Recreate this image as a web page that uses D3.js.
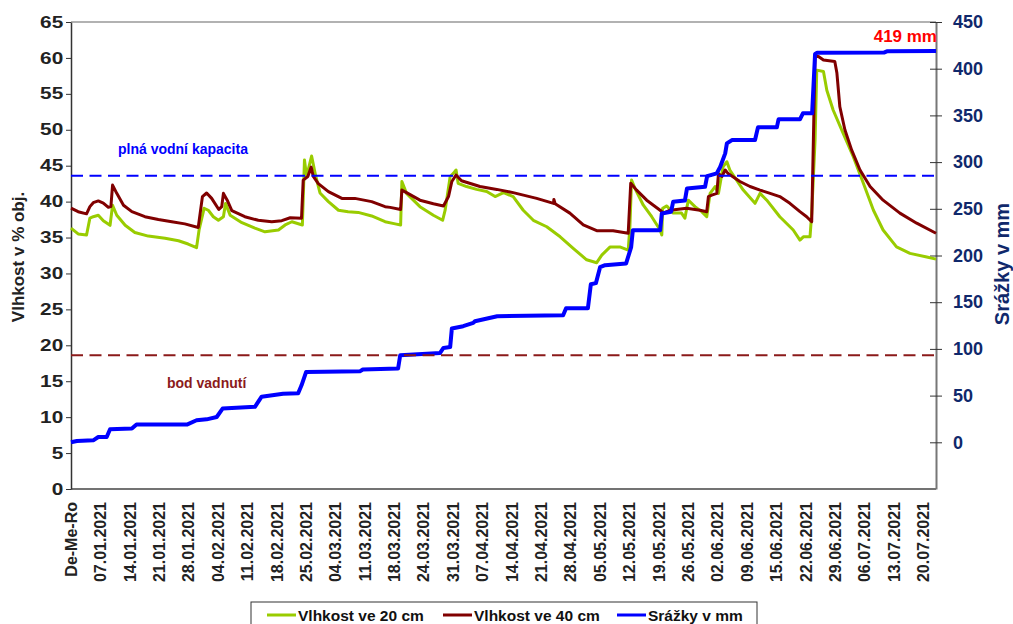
<!DOCTYPE html>
<html>
<head>
<meta charset="utf-8">
<script src="https://cdn.jsdelivr.net/npm/d3@7"></script>
<style>
body { margin: 0; background: #fff; }
text { font-family: Arial, "Liberation Sans", sans-serif; font-weight: bold; }
</style>
</head>
<body>
<div id="chart"></div>
<script>
// day offsets: label i sits at day i*7
const xLabels = ['De-Me-Ro', '07.01.2021', '14.01.2021', '21.01.2021', '28.01.2021', '04.02.2021',
    '11.02.2021', '18.02.2021', '25.02.2021', '04.03.2021', '11.03.2021', '18.03.2021', '24.03.2021',
    '31.03.2021', '07.04.2021', '14.04.2021', '21.04.2021', '28.04.2021', '05.05.2021', '12.05.2021',
    '19.05.2021', '26.05.2021', '02.06.2021', '09.06.2021', '15.06.2021', '22.06.2021', '29.06.2021',
    '06.07.2021', '13.07.2021', '20.07.2021'];
const leftTicks = [0, 5, 10, 15, 20, 25, 30, 35, 40, 45, 50, 55, 60, 65];
const rightTicks = [0, 50, 100, 150, 200, 250, 300, 350, 400, 450];

// soil moisture 20 cm [day, % obj.]
const moisture20 = [
    [0, 36.3], [1.7, 35.5], [3.7, 35.35], [4.5, 37.7], [5.3, 37.9], [6.5, 38.1], [7.7, 37.35],
    [9.3, 36.7], [9.9, 39.5], [10.9, 38.1], [12.9, 36.7], [15.2, 35.7], [18.4, 35.2], [22.4, 34.9],
    [25.6, 34.55], [27.9, 34.1], [29.9, 33.6], [30.5, 36.05], [31.7, 39.07], [32.7, 38.8],
    [33.9, 37.9], [35.1, 37.4], [36.3, 37.9], [36.8, 39.75], [37.9, 38.1], [40.7, 37.06],
    [43.8, 36.3], [46.2, 35.8], [49.4, 36.05], [51.0, 36.75], [52.6, 37.2], [55.1, 36.75],
    [55.6, 45.8], [56.1, 43.5], [57.3, 46.35], [58.3, 43.5], [59.3, 41.2], [61.3, 40.0],
    [63.7, 38.8], [66.0, 38.6], [68.4, 38.5], [71.6, 38.0], [74.8, 37.2], [77.2, 36.9],
    [78.5, 36.75], [78.8, 42.8], [79.9, 41.15], [83.1, 39.3], [86.3, 38.1], [88.5, 37.4],
    [89.1, 38.8], [90.3, 43.5], [91.0, 43.9], [91.7, 44.4], [92.2, 42.55], [94.2, 42.1],
    [96.6, 41.7], [99.0, 41.4], [101.0, 40.7], [103.0, 41.25], [105.3, 40.7], [107.7, 38.8],
    [110.1, 37.4], [113.3, 36.5], [116.5, 35.1], [119.6, 33.5], [122.8, 31.9], [125.2, 31.5],
    [126.4, 32.55], [128.4, 33.7], [130.7, 33.7], [132.7, 33.26], [133.1, 36.5], [133.5, 43.0],
    [134.3, 41.85], [136.3, 39.5], [138.3, 37.9], [140.3, 36.05], [140.7, 35.35], [140.9, 39.07],
    [141.9, 39.4], [143.4, 38.4], [145.4, 38.4], [146.2, 37.7], [147.0, 40.2], [148.6, 39.3],
    [150.2, 38.6], [151.4, 37.9], [152.2, 41.15], [153.4, 42.1], [154.2, 41.15], [155.3, 44.86],
    [156.2, 45.55], [156.9, 44.4], [160.1, 41.6], [162.9, 39.76], [164.1, 41.15], [165.7, 40.2],
    [168.8, 37.9], [172.0, 36.05], [173.6, 34.65], [174.4, 35.1], [176.0, 35.1], [176.4, 38.4],
    [177.2, 48.6], [177.6, 58.3], [179.2, 58.1], [180.0, 55.5], [181.5, 52.75], [183.9, 49.5],
    [186.3, 46.25], [188.7, 42.55], [191.1, 38.8], [193.4, 36.05], [196.6, 33.7], [199.8, 32.8],
    [203.8, 32.3], [206, 32.0]
];

// soil moisture 40 cm [day, % obj.]
const moisture40 = [
    [0, 39.1], [1.7, 38.6], [3.7, 38.3], [4.5, 39.3], [5.3, 39.85], [6.5, 40.1], [7.7, 39.8],
    [8.9, 39.2], [9.5, 39.3], [9.9, 42.3], [10.9, 41.15], [12.5, 39.5], [14.5, 38.6], [17.6, 37.9],
    [20.8, 37.5], [24.0, 37.2], [27.1, 36.9], [30.3, 36.4], [31.3, 40.7], [32.3, 41.2],
    [33.5, 40.45], [35.2, 38.9], [35.9, 39.3], [36.3, 41.15], [37.2, 40.2], [38.3, 38.75],
    [41.4, 37.9], [44.6, 37.4], [47.8, 37.2], [50.2, 37.35], [52.2, 37.75], [54.9, 37.7],
    [55.3, 43.0], [56.4, 43.5], [57.2, 44.8], [57.7, 43.5], [58.9, 42.5], [61.3, 41.4],
    [64.5, 40.45], [67.6, 40.45], [71.6, 40.0], [74.8, 39.3], [76.0, 39.2], [78.5, 38.9],
    [78.8, 41.6], [79.9, 41.25], [83.1, 40.2], [86.3, 39.7], [88.7, 39.4], [89.9, 40.7],
    [90.7, 42.8], [91.2, 43.25], [91.7, 43.7], [93.0, 42.9], [97.4, 42.1], [101.4, 41.7],
    [105.3, 41.25], [110.9, 40.45], [114.9, 39.76], [115.0, 40.3], [115.3, 39.7], [118.8, 38.4],
    [122.0, 36.75], [125.2, 35.95], [129.1, 35.95], [132.7, 35.6], [133.3, 42.55], [134.7, 41.6],
    [137.1, 40.2], [140.3, 38.8], [141.1, 38.4], [142.7, 38.8], [146.6, 39.07], [149.8, 38.8],
    [151.4, 38.6], [151.8, 40.7], [152.6, 40.9], [153.8, 41.15], [154.2, 43.9], [155.0, 43.5],
    [155.8, 44.4], [156.5, 43.9], [159.3, 42.8], [161.7, 42.1], [164.1, 41.6], [166.5, 41.15],
    [168.8, 40.7], [171.2, 39.76], [173.6, 38.6], [175.2, 37.9], [176.4, 37.2], [176.8, 48.6],
    [177.2, 60.2], [178.0, 60.2], [179.2, 59.7], [181.9, 59.5], [182.4, 57.9], [183.1, 53.2],
    [184.3, 50.0], [185.9, 47.2], [187.9, 44.4], [190.3, 42.1], [193.4, 40.2], [197.4, 38.4],
    [201.4, 37.0], [206, 35.6]
];

// cumulative precipitation [day, mm]
const rainfall = [
    [0, 0], [1.4, 1.4], [5.3, 2.1], [6.5, 5.7], [8.5, 5.7], [9.3, 13.9], [14.5, 14.7],
    [15.6, 19], [27.6, 19], [29.9, 23.6], [32.3, 24.6], [34.7, 27.1], [36.1, 36.1], [43.8, 38],
    [45.4, 48.8], [50.5, 52], [54.1, 52.5], [54.9, 61], [56.0, 75.3], [68.8, 76], [69.5, 78],
    [77.9, 79], [78.4, 93.2], [87.9, 95.7], [88.7, 101], [90.3, 102], [90.7, 121.8],
    [93.4, 124.3], [95.8, 127.8], [96.2, 129.6], [101.5, 135], [117.2, 136], [117.9, 143.6],
    [123.1, 143.6], [123.8, 169.3], [125.0, 170.4], [126.0, 187.5], [127.2, 189.6],
    [132.2, 191.5], [133.4, 209], [133.8, 227], [140.3, 227], [140.7, 245], [142.9, 246.8],
    [143.4, 257.5], [146.2, 258.8], [146.7, 271.8], [151.0, 273.5], [151.5, 285], [153.8, 288],
    [154.6, 294.7], [155.8, 309.3], [156.2, 320], [157.4, 323.6], [162.9, 323.6], [163.6, 337.2],
    [168.1, 337.2], [168.5, 345.8], [173.6, 345.8], [174.3, 352.2], [176.5, 352.2], [177.2, 415.7],
    [177.7, 417], [193.6, 417.3], [194.3, 418.6], [206, 419]
];

const fieldCapacity = 43.6;
const wiltingPoint = 18.6;

const width = 1013;
const height = 624;
const plot = { left: 71, right: 936, top: 22, bottom: 489 };

const svg = d3.select("#chart")
    .append("svg")
    .attr("width", width)
    .attr("height", height);

const x = d3.scaleLinear().domain([0, 206]).range([plot.left, plot.right]);
const yLeft = d3.scaleLinear().domain([0, 65]).range([plot.bottom, plot.top]);
const yRight = d3.scaleLinear().domain([-50, 450]).range([plot.bottom, plot.top]);

// frame
svg.append("line")
    .attr("x1", plot.left).attr("x2", plot.right)
    .attr("y1", plot.top).attr("y2", plot.top)
    .attr("stroke", "#999").attr("stroke-width", 1.5);
svg.append("line")
    .attr("x1", plot.left).attr("x2", plot.right)
    .attr("y1", plot.bottom).attr("y2", plot.bottom)
    .attr("stroke", "#444").attr("stroke-width", 1.5);

// left axis
const leftAxis = svg.append("g")
    .attr("transform", `translate(${plot.left},0)`)
    .call(d3.axisLeft(yLeft).tickValues(leftTicks).tickSize(5).tickSizeOuter(0).tickPadding(5));
leftAxis.select(".domain").attr("stroke", "#333").attr("stroke-width", 1.5);
leftAxis.selectAll(".tick line").attr("stroke", "#333");
// labels look a little wide in the original
leftAxis.selectAll(".tick text")
    .attr("fill", "#222")
    .attr("x", -6)
    .attr("transform", "scale(1.3,1)")
    .style("font-size", "16px");

// right axis
const rightAxis = svg.append("g")
    .attr("transform", `translate(${plot.right},0)`)
    .call(d3.axisRight(yRight).tickValues(rightTicks).tickSize(6).tickSizeOuter(0).tickPadding(11));
rightAxis.select(".domain").attr("stroke", "#777").attr("stroke-width", 2);
rightAxis.selectAll(".tick line").attr("x1", -6).attr("stroke", "#333");
rightAxis.selectAll(".tick text")
    .attr("fill", "#10286b")
    .style("font-size", "18px");

// x labels
svg.append("g")
    .selectAll("text")
    .data(xLabels)
    .enter()
    .append("text")
    .attr("transform", (d, i) => `translate(${x(i * 7)},502) rotate(-90)`)
    .attr("text-anchor", "end")
    .attr("dy", "0.36em")
    .attr("fill", "#222")
    .style("font-size", "16px")
    .text(d => d);

// axis titles
svg.append("text")
    .attr("transform", "translate(18,257) rotate(-90)")
    .attr("text-anchor", "middle")
    .attr("dy", "0.36em")
    .attr("fill", "#222")
    .style("font-size", "17px")
    .text("Vlhkost v % obj.");

svg.append("text")
    .attr("transform", "translate(1002,264) rotate(-90)")
    .attr("text-anchor", "middle")
    .attr("dy", "0.36em")
    .attr("fill", "#10286b")
    .style("font-size", "20px")
    .text("Srážky v mm");

// series
const lineLeft = d3.line().x(d => x(d[0])).y(d => yLeft(d[1]));
const lineRight = d3.line().x(d => x(d[0])).y(d => yRight(d[1]));

svg.append("path")
    .datum(moisture20)
    .attr("d", lineLeft)
    .attr("fill", "none")
    .attr("stroke", "#99cc00")
    .attr("stroke-width", 3)
    .attr("stroke-linejoin", "round");

svg.append("path")
    .datum(moisture40)
    .attr("d", lineLeft)
    .attr("fill", "none")
    .attr("stroke", "#800000")
    .attr("stroke-width", 3)
    .attr("stroke-linejoin", "round");

svg.append("path")
    .datum(rainfall)
    .attr("d", lineRight)
    .attr("fill", "none")
    .attr("stroke", "#0000ff")
    .attr("stroke-width", 4)
    .attr("stroke-linejoin", "round");

// reference levels
svg.append("line")
    .attr("x1", plot.left).attr("x2", plot.right)
    .attr("y1", yLeft(fieldCapacity)).attr("y2", yLeft(fieldCapacity))
    .attr("stroke", "#0000ff").attr("stroke-width", 2)
    .attr("stroke-dasharray", "12,6.5");
svg.append("line")
    .attr("x1", plot.left).attr("x2", plot.right)
    .attr("y1", yLeft(wiltingPoint)).attr("y2", yLeft(wiltingPoint))
    .attr("stroke", "#8b1a1a").attr("stroke-width", 2)
    .attr("stroke-dasharray", "12,6.5");

svg.append("text")
    .attr("x", 118).attr("y", 154)
    .attr("fill", "#0000ff")
    .style("font-size", "14px")
    .text("plná vodní kapacita");
svg.append("text")
    .attr("x", 167).attr("y", 388)
    .attr("fill", "#8b1a1a")
    .style("font-size", "14px")
    .text("bod vadnutí");

svg.append("text")
    .attr("x", 937).attr("y", 42)
    .attr("text-anchor", "end")
    .attr("fill", "#ff0000")
    .style("font-size", "17px")
    .text("419 mm");

// legend
const legendItems = [
    { label: "Vlhkost ve 20 cm", color: "#99cc00", x: 267 },
    { label: "Vlhkost ve 40 cm", color: "#800000", x: 443 },
    { label: "Srážky v mm", color: "#0000ff", x: 617 }
];
const legend = svg.append("g");
legend.append("rect")
    .attr("x", 251).attr("y", 602)
    .attr("width", 506).attr("height", 30)
    .attr("fill", "#fff")
    .attr("stroke", "#333");
const item = legend.selectAll("g.item")
    .data(legendItems)
    .enter()
    .append("g")
    .attr("class", "item")
    .attr("transform", d => `translate(${d.x},615)`);
item.append("line")
    .attr("x1", 0).attr("x2", 29)
    .attr("stroke", d => d.color)
    .attr("stroke-width", 3);
item.append("text")
    .attr("x", 31)
    .attr("dy", "0.36em")
    .attr("fill", "#111")
    .style("font-size", "15.5px")
    .text(d => d.label);
</script>
</body>
</html>
